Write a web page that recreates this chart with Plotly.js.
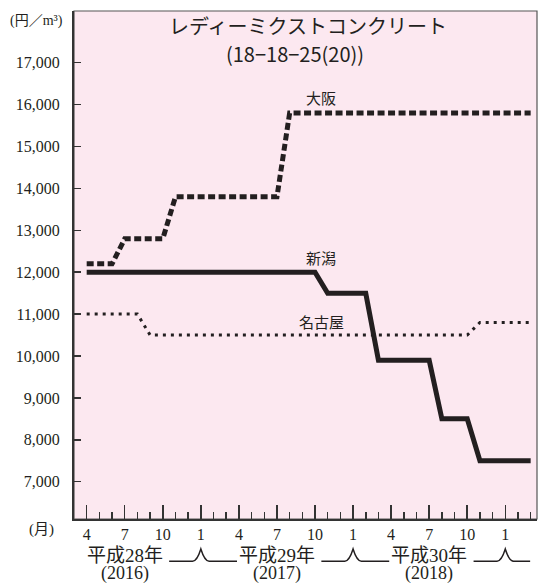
<!DOCTYPE html>
<html><head><meta charset="utf-8">
<script src="https://cdn.plot.ly/plotly-3.0.1.min.js"></script>
<style>html,body{margin:0;padding:0;background:#fff;}#chart{width:538px;height:585px;}</style>
</head><body><div id="chart"></div>
<script>
// ---- data ----
const months = ['2016-04','2016-05','2016-06','2016-07','2016-08','2016-09','2016-10','2016-11','2016-12',
  '2017-01','2017-02','2017-03','2017-04','2017-05','2017-06','2017-07','2017-08','2017-09','2017-10','2017-11','2017-12',
  '2018-01','2018-02','2018-03','2018-04','2018-05','2018-06','2018-07','2018-08','2018-09','2018-10','2018-11','2018-12',
  '2019-01','2019-02','2019-03'];
const osaka = [12200,12200,12200,12800,12800,12800,12800,13800,13800,
  13800,13800,13800,13800,13800,13800,13800,15800,15800,15800,15800,15800,
  15800,15800,15800,15800,15800,15800,15800,15800,15800,15800,15800,15800,
  15800,15800,15800];
const niigata = [12000,12000,12000,12000,12000,12000,12000,12000,12000,
  12000,12000,12000,12000,12000,12000,12000,12000,12000,12000,11500,11500,
  11500,11500,9900,9900,9900,9900,9900,8500,8500,8500,7500,7500,
  7500,7500,7500];
const nagoya = [11000,11000,11000,11000,11000,10500,10500,10500,10500,
  10500,10500,10500,10500,10500,10500,10500,10500,10500,10500,10500,10500,
  10500,10500,10500,10500,10500,10500,10500,10500,10500,10500,10800,10800,
  10800,10800,10800];
const seriesNames = ['大阪','新潟','名古屋'];
const xTickMonths = ['2016-04','2016-07','2016-10','2017-01','2017-04','2017-07','2017-10','2018-01','2018-04','2018-07','2018-10','2019-01'];
const xTickText = ['4','7','10','1','4','7','10','1','4','7','10','1'];
const yTickVals = [7000,8000,9000,10000,11000,12000,13000,14000,15000,16000,17000];
const yearLabels = ['平成28年','平成29年','平成30年'];
const yearWestern = ['(2016)','(2017)','(2018)'];
const yearCenterMonths = ['2016-07','2017-07','2018-07'];
const newYearMonths = ['2017-01','2018-01','2019-01'];
const titleLines = ['レディーミクストコンクリート','(18−18−25(20))'];
const yUnit = '(円／m³)';
const xUnit = '(月)';

// ---- chart ----
const ink = '#231f20';
const xs = months.map((m, i) => i);
const idx = m => months.indexOf(m);
const xr = [-1, 35.5];
const yr = [6110, 18235];
const px = m => (m - xr[0]) / (xr[1] - xr[0]);

const traces = [
  {x: xs, y: osaka, name: seriesNames[0], mode: 'lines', line: {color: ink, width: 5, dash: '7px,3.5px'}},
  {x: xs, y: nagoya, name: seriesNames[2], mode: 'lines', line: {color: ink, width: 3, dash: '3px,5px'}},
  {x: xs, y: niigata, name: seriesNames[1], mode: 'lines', line: {color: ink, width: 5}}
];

const serifNum = "Liberation Serif, serif";
const serifJP = "'Liberation Serif', 'Noto Sans CJK JP', serif";
const sansJP = "'Noto Sans CJK JP', sans-serif";

const annotations = [
  {text: titleLines[0], xref: 'paper', yref: 'paper', x: 0.505, y: 0.972, showarrow: false, xanchor: 'center', yanchor: 'middle', font: {family: sansJP, size: 20, color: ink}},
  {text: titleLines[1], xref: 'paper', yref: 'paper', x: 0.477, y: 0.917, showarrow: false, xanchor: 'center', yanchor: 'middle', font: {family: sansJP, size: 20, color: ink}},
  {text: seriesNames[0], xref: 'x', yref: 'y', x: 18.5, y: 16180, showarrow: false, font: {family: sansJP, size: 15, color: ink}},
  {text: seriesNames[1], xref: 'x', yref: 'y', x: 18.5, y: 12350, showarrow: false, font: {family: sansJP, size: 15, color: ink}},
  {text: seriesNames[2], xref: 'x', yref: 'y', x: 18.5, y: 10820, showarrow: false, font: {family: sansJP, size: 15, color: ink}},
  {text: yUnit, xref: 'paper', yref: 'paper', x: -0.081, y: 0.981, showarrow: false, xanchor: 'center', yanchor: 'middle', font: {family: serifJP, size: 14, color: ink}},
  {text: xUnit, xref: 'paper', yref: 'paper', x: -0.070, y: -0.021, showarrow: false, xanchor: 'center', yanchor: 'middle', font: {family: serifJP, size: 15, color: ink}}
];
yearLabels.forEach((t, i) => {
  annotations.push({text: t, xref: 'x', yref: 'paper', x: idx(yearCenterMonths[i]), y: -0.072, showarrow: false, xanchor: 'center', yanchor: 'middle', font: {family: serifJP, size: 19, color: ink}});
  annotations.push({text: yearWestern[i], xref: 'x', yref: 'paper', x: idx(yearCenterMonths[i]), y: -0.107, showarrow: false, xanchor: 'center', yanchor: 'middle', font: {family: serifJP, size: 18, color: ink}});
});

const shapes = [
  {type: 'rect', xref: 'paper', yref: 'paper', x0: 0, x1: 1, y0: 0, y1: 1, layer: 'below', line: {color: '#555', width: 1.2}}
];
const yb = -0.083, yt = -0.059;
newYearMonths.forEach(m => {
  const p = idx(m);
  const L = p - 2.5, R = Math.min(p + 2.85, 34.96);
  const path = `M ${px(L)},${yb} L ${px(p - 0.65)},${yb} Q ${px(p - 0.3)},${yb} ${px(p)},${yt} Q ${px(p + 0.3)},${yb} ${px(p + 0.65)},${yb} L ${px(R)},${yb}`;
  shapes.push({type: 'path', xref: 'paper', yref: 'paper', path: path, line: {color: ink, width: 1.5}});
});

const layout = {
  width: 538, height: 585,
  margin: {l: 74, r: 1, t: 11, b: 66, pad: 0},
  paper_bgcolor: '#ffffff',
  plot_bgcolor: '#fce8f0',
  showlegend: false,
  hovermode: false,
  xaxis: {
    range: xr, tickmode: 'array', tickvals: xTickMonths.map(idx), ticktext: xTickText,
    ticks: 'inside', ticklen: 14, tickwidth: 1.5, tickcolor: '#333',
    minor: {tickmode: 'linear', tick0: 0, dtick: 1, ticks: 'inside', ticklen: 7, tickwidth: 1.5, tickcolor: '#333', showgrid: false},
    showline: true, linewidth: 2, linecolor: '#333', showgrid: false, zeroline: false,
    tickfont: {family: serifNum, size: 16, color: ink}
  },
  yaxis: {
    range: yr, tickmode: 'array', tickvals: yTickVals, tickformat: ',d',
    ticks: 'inside', ticklen: 7, tickwidth: 1.5, tickcolor: '#333',
    showline: true, linewidth: 2, linecolor: '#333', showgrid: false, zeroline: false,
    ticklabelstandoff: 9,
    tickfont: {family: serifNum, size: 16, color: ink}
  },
  annotations: annotations,
  shapes: shapes
};

Plotly.newPlot('chart', traces, layout, {staticPlot: true, displayModeBar: false});
</script>
</body></html>
